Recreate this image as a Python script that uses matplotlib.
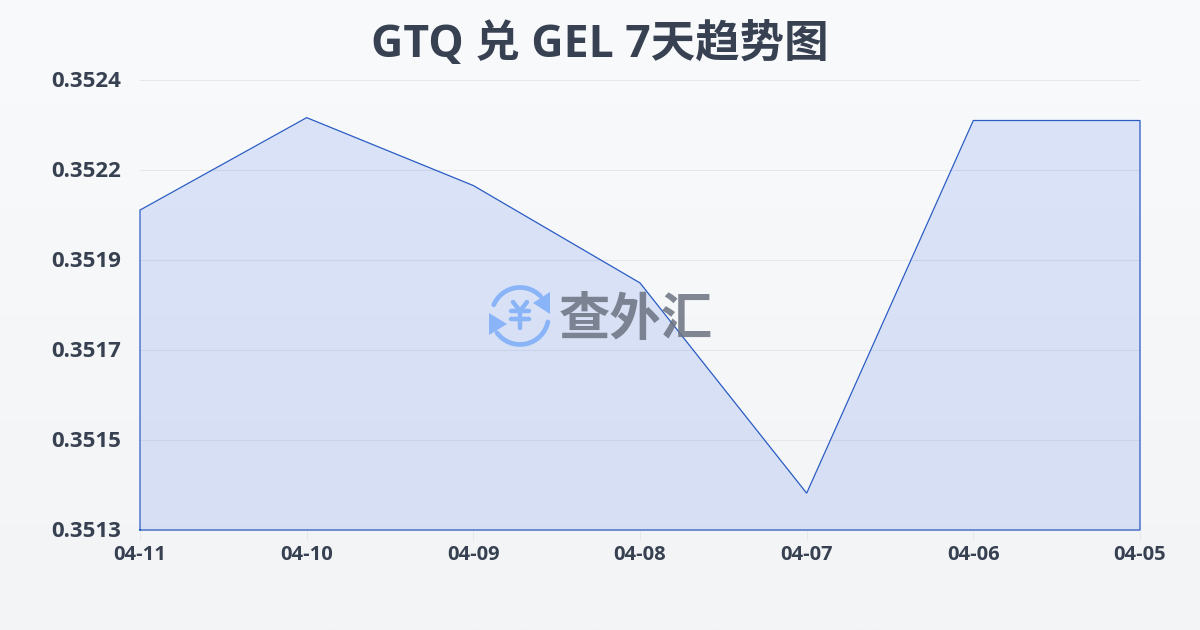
import numpy as np
import matplotlib
matplotlib.use('Agg')
import matplotlib.pyplot as plt
from matplotlib.patches import Arc, Polygon
from matplotlib.transforms import ScaledTranslation

plt.rcParams['font.family'] = ['Open Sans', 'Noto Sans CJK SC', 'DejaVu Sans']

dates = ['04-11', '04-10', '04-09', '04-08', '04-07', '04-06', '04-05']
rates = [0.352082, 0.352308, 0.352142, 0.351904, 0.351390, 0.352301, 0.352301]
ytick_values = [0.3513, 0.35152, 0.35174, 0.35196, 0.35218, 0.3524]
ytick_labels = ['0.3513', '0.3515', '0.3517', '0.3519', '0.3522', '0.3524']
title = 'GTQ 兑 GEL 7天趋势图'

text_color = '#374151'
line_color = '#2a5cc4'
W, H = 1200, 630

fig = plt.figure(figsize=(12, 6.3), dpi=100)

# page background, light vertical gradient
bg = fig.add_axes([0, 0, 1, 1], zorder=0)
bg.imshow(np.linspace(0, 1, 256).reshape(-1, 1), aspect='auto', extent=(0, 1, 0, 1),
          cmap=matplotlib.colors.LinearSegmentedColormap.from_list('bg', ['#f9fafc', '#f3f4f6']))
bg.axis('off')

ax = fig.add_axes([140 / W, 1 - 530 / H, 1000 / W, 450 / H], zorder=1)
ax.patch.set_alpha(0)
x = np.arange(len(dates))
ax.set_xlim(0, len(dates) - 1)
ax.set_ylim(ytick_values[0], ytick_values[-1])

ax.set_yticks(ytick_values)
ax.set_yticklabels(ytick_labels, fontsize=16, fontweight='bold', color=text_color)
ax.set_xticks(x)
ax.set_xticklabels(dates, fontsize=14.5, fontweight='bold', color=text_color)
ax.tick_params(axis='y', length=0, pad=13.4)
ax.tick_params(axis='x', length=7, width=0.7, color='#e5e7eb', pad=3.5)
# y labels sit a pixel above their gridline
nudge = ScaledTranslation(0, 1 / 100, fig.dpi_scale_trans)
for lab in ax.get_yticklabels():
    lab.set_transform(lab.get_transform() + nudge)
for s in ax.spines.values():
    s.set_visible(False)
ax.grid(axis='y', color='#e5e7eb', linewidth=0.75)
ax.set_axisbelow(True)

ax.fill_between(x, rates, ytick_values[0], color='#2f66e0', alpha=0.15, linewidth=0, zorder=2)
ax.plot(np.r_[x[0], x, x[-1], x[0]],
        np.r_[ytick_values[0], rates, ytick_values[0], ytick_values[0]],
        color=line_color, linewidth=0.9, clip_on=False, zorder=4, solid_joinstyle='miter')

fig.text(0.5, 1 - 46 / H, title, ha='center', va='center', fontsize=32,
         fontweight='bold', color=text_color)

# watermark: logo and name, drawn in pixel coordinates
wm = fig.add_axes([0, 0, 1, 1], zorder=3)
wm.axis('off')
blue = '#8ab4f8'
cx, cy = 520, 316
wm.add_patch(Arc((cx, cy), 57, 57, theta1=203, theta2=316, color=blue, lw=3.4, capstyle='round'))
wm.add_patch(Arc((cx, cy), 57, 57, theta1=12, theta2=144, color=blue, lw=3.4, capstyle='round'))
wm.add_patch(Polygon([(533, 303), (550, 292), (550, 314)], color=blue, lw=0))
wm.add_patch(Polygon([(489, 313), (507, 324), (489, 335)], color=blue, lw=0))
# yen sign
wm.plot([513, 520, 527], [302, 311, 302], color=blue, lw=3.2, solid_capstyle='round', solid_joinstyle='round')
wm.plot([511, 529], [311, 311], color=blue, lw=3.2, solid_capstyle='round')
wm.plot([511, 529], [319, 319], color=blue, lw=3.2, solid_capstyle='round')
wm.plot([520, 520], [311, 328], color=blue, lw=3.2, solid_capstyle='round')
wm.set_xlim(0, W)
wm.set_ylim(H, 0)
wm.text(636, 322, '查外汇', ha='center', va='center', fontsize=37,
        fontweight='bold', color='#6b7280', alpha=0.85)

fig.savefig('out.png', dpi=100)
